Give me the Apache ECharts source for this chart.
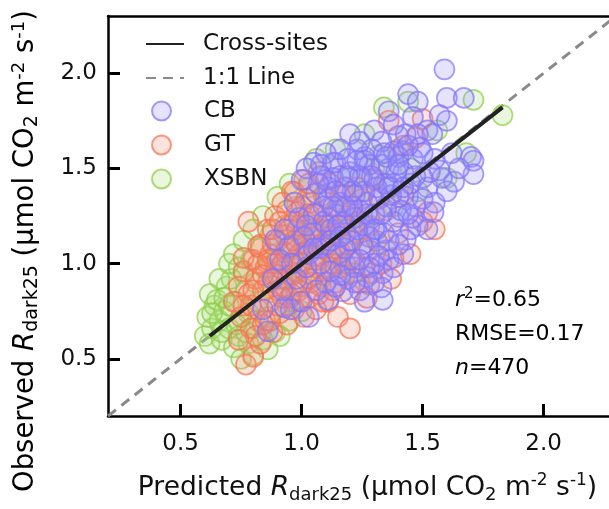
<!DOCTYPE html>
<html>
<head>
<meta charset="utf-8">
<script src="https://cdn.jsdelivr.net/npm/echarts@6/dist/echarts.min.js"></script>
<style>
  html, body { margin: 0; padding: 0; background: #fff; }
  #chart { width: 609px; height: 509px; }
</style>
</head>
<body>
<div id="chart"></div>
<script>
// [predicted, observed]
const cbData = [
  [1.59,2.02],[1.44,1.89],[1.48,1.85],[1.60,1.87],[1.67,1.87],[1.57,1.78],[1.60,1.75],[1.46,1.77],[1.52,1.70],[1.40,1.67],
  [1.48,1.68],[1.54,1.68],[1.42,1.59],[1.49,1.61],[1.23,1.60],[1.26,1.56],[1.05,1.53],[1.13,1.53],[1.38,1.59],[1.70,1.56],
  [1.36,1.80],[1.38,1.73],[1.30,1.70],[1.33,1.64],[1.20,1.68],
  [1.71,1.54],[1.71,1.47],[1.63,1.43],[1.58,1.45],[1.55,1.32],[1.545,1.27],[1.43,1.125],[1.35,1.07],[1.36,1.02],[1.57,1.49],
  [1.50,1.45],[1.40,1.56],[1.26,1.54],[1.44,1.35],[1.40,1.245],[1.31,1.18],[1.28,1.07],[1.335,0.95],[1.33,0.875],[1.335,0.81],
  [1.52,1.40],[1.47,1.30],[1.60,1.38],[1.48,1.20],[1.42,1.05],[1.38,0.98],[1.45,1.18],[1.65,1.50],[1.55,1.55],[1.62,1.58],
  [0.86,0.645],[0.84,0.76],[0.93,0.77],[0.955,0.76],[1.00,0.80],[1.11,0.81],[1.17,0.855],[1.19,0.92],[1.10,0.90],[0.98,0.92],
  [1.02,0.98],[1.06,0.86],[1.14,0.88],[1.24,0.86],[1.27,0.93],[1.22,0.98],[0.92,0.86],[0.88,0.92],[1.03,0.72],[1.26,0.80],
  [1.02,1.50],[1.14,1.53],[1.06,1.37],[1.09,1.22],[1.05,1.16],[0.93,1.18],[0.95,1.09],[0.89,1.125],[0.99,1.24],[0.97,1.32],
  [1.00,1.44],[1.08,1.46],[1.11,1.40],[0.91,1.02],[0.96,1.00],[1.03,1.05],
  [1.10,1.10],[1.12,1.18],[1.14,1.26],[1.16,1.32],[1.18,1.40],[1.20,1.48],[1.22,1.36],[1.24,1.28],[1.26,1.20],[1.28,1.14],
  [1.30,1.26],[1.32,1.34],[1.34,1.42],[1.36,1.50],[1.30,1.44],[1.28,1.52],[1.25,1.45],[1.22,1.24],[1.18,1.16],[1.15,1.05],
  [1.20,1.02],[1.25,1.10],[1.30,1.00],[1.34,1.16],[1.38,1.22],[1.40,1.35],[1.38,1.42],[1.42,1.48],[1.45,1.42],[1.35,1.30],
  [1.17,1.22],[1.13,1.45],[1.09,1.30],[1.07,1.08],[1.12,0.96],[1.18,1.08],[1.23,1.18],[1.27,1.32],[1.31,1.40],[1.33,1.52],
  [1.29,1.60],[1.19,1.55],[1.16,1.46],[1.11,1.34],[1.05,1.26],[1.01,1.14],[1.21,1.30],[1.26,1.38],[1.37,1.36],[1.41,1.28],
  [1.46,1.24],[1.50,1.34],[1.53,1.48],[1.46,1.55],[1.43,1.68],[1.34,1.58],[1.24,1.64],[1.16,1.60],[1.10,1.58],[1.08,1.52],
  [1.12,1.12],[1.15,1.20],[1.18,1.30],[1.21,1.38],[1.24,1.46],[1.27,1.26],[1.30,1.18],[1.33,1.26],[1.36,1.40],[1.39,1.48],
  [1.42,1.40],[1.44,1.26],[1.40,1.10],[1.36,1.12],[1.32,1.04],[1.28,0.98],[1.24,1.02],[1.20,1.12],[1.16,1.14],[1.13,1.30],
  [1.10,1.44],[1.14,1.38],[1.19,1.46],[1.23,1.54],[1.29,1.46],[1.35,1.56],[1.40,1.52],[1.47,1.46],[1.50,1.58],[1.44,1.62],
  [1.52,1.18],[1.30,0.90],[1.22,0.90],[1.16,0.94],[1.08,1.00],[1.05,1.08],[1.02,1.20],[1.07,1.42]
];
const gtData = [
  [0.72,0.80],[0.74,0.88],[0.75,0.72],[0.76,0.96],[0.77,0.47],[0.78,0.84],[0.79,0.66],[0.80,0.51],[0.80,1.02],[0.81,0.92],
  [0.82,0.76],[0.83,0.58],[0.83,1.10],[0.84,0.86],[0.85,0.98],[0.85,0.70],[0.86,1.18],[0.87,0.80],[0.87,1.05],[0.88,0.92],
  [0.88,0.64],[0.89,1.25],[0.90,0.86],[0.90,1.12],[0.91,0.74],[0.91,0.98],[0.92,1.32],[0.92,0.82],[0.93,1.06],[0.94,0.92],
  [0.94,0.68],[0.95,1.20],[0.95,1.00],[0.96,0.84],[0.96,1.38],[0.97,1.12],[0.97,0.76],[0.98,0.95],[0.98,1.27],[0.99,1.05],
  [1.00,0.88],[1.00,1.16],[1.01,0.72],[1.01,1.44],[1.02,0.98],[1.02,1.22],[1.03,0.82],[1.03,1.08],[1.04,1.32],[1.05,0.94],
  [1.05,1.14],[1.06,0.76],[1.06,1.26],[1.07,1.02],[1.07,1.48],[1.08,0.88],[1.08,1.18],[1.09,1.36],[1.10,0.96],[1.10,1.08],
  [1.11,0.80],[1.11,1.24],[1.12,1.42],[1.13,1.00],[1.13,1.15],[1.14,0.90],[1.15,1.30],[1.15,0.72],[1.16,1.06],[1.17,1.20],
  [1.18,0.94],[1.18,1.40],[1.19,1.10],[1.20,0.84],[1.21,1.28],[1.22,1.02],[1.23,1.16],[1.24,0.90],[1.25,1.34],[1.26,1.08],
  [1.27,0.82],[1.28,1.20],[1.29,0.95],[1.30,1.45],[1.31,1.12],[1.33,1.00],[1.35,1.28],[1.37,0.92],[1.38,1.03],[1.40,1.16],
  [1.42,1.36],[1.45,1.05],[1.50,1.22],[1.52,1.27],[1.55,1.18],[1.36,1.75],[1.50,1.76],[1.47,1.66],[1.42,1.62],[1.28,0.89],
  [1.20,0.66],[0.93,1.15],[0.97,1.02],[1.01,1.10],[1.04,0.90],[1.06,1.04],[1.09,1.22],[1.12,0.98],[1.14,1.08],[0.99,0.80],
  [0.89,1.00],[0.86,0.90],[0.82,1.00],[0.79,0.78],[0.84,0.68],[1.16,1.36],[1.19,1.25],[1.23,1.40],[1.32,1.35],[1.02,1.34],
  [0.98,1.18],[0.97,1.375],[1.03,1.42],[0.82,1.09],[0.78,1.22],[0.76,1.03],
  [0.86,1.02],[0.88,1.10],[0.90,0.94],[0.92,1.00],[0.94,1.08],[0.96,0.94],[0.98,1.10],[1.00,1.00],[1.02,1.06],[1.04,1.18],
  [1.06,0.98],[1.08,1.10],[1.10,1.20],[1.12,1.06],[1.14,1.18],[1.16,0.98],[0.90,0.78],[0.93,0.88],[0.95,0.82],[0.99,0.86],
  [1.03,0.92],[1.07,0.84],[0.87,0.70],[0.84,0.94],[0.88,1.18],[0.91,1.22],[0.94,1.28],[0.97,1.22],[1.00,1.30],[1.03,1.26],
  [0.80,0.86],[0.81,0.62],[0.76,0.78],[0.74,0.60],[1.18,1.00],[1.21,1.12],[1.24,1.22],[1.09,0.80],[1.13,0.86],[1.26,0.98]
];
const xsbnData = [
  [0.60,0.62],[0.62,0.58],[0.63,0.66],[0.61,0.72],[0.64,0.78],[0.62,0.84],[0.65,0.81],[0.66,0.70],[0.67,0.60],[0.68,0.75],
  [0.69,0.88],[0.70,0.66],[0.71,0.92],[0.72,0.56],[0.73,0.80],[0.74,0.62],[0.74,0.70],[0.75,0.50],[0.76,0.95],[0.77,0.86],
  [0.78,0.58],[0.78,0.74],[0.79,1.02],[0.80,0.66],[0.81,0.90],[0.82,0.80],[0.83,1.08],[0.84,0.60],[0.85,0.97],[0.86,0.72],
  [0.87,1.15],[0.88,0.85],[0.89,0.64],[0.90,1.02],[0.91,0.62],[0.92,0.92],[0.93,1.20],[0.94,0.78],[0.95,0.70],[0.96,1.10],
  [0.97,0.88],[0.98,1.30],[0.99,0.98],[1.00,0.75],[0.66,0.92],[0.70,1.00],[0.72,1.05],[0.76,1.12],[0.80,1.18],[0.84,1.25],
  [0.74,0.98],[0.68,0.82],[0.63,0.74],[0.67,0.64],[0.70,0.78],[0.73,0.68],[0.82,0.70],[0.86,0.55],[0.80,0.52],[0.77,0.64],
  [1.02,1.05],[1.05,1.20],[1.08,0.92],[1.10,1.35],[1.12,1.12],[1.15,1.00],[1.18,1.28],[1.20,1.45],[1.22,1.15],[1.25,1.38],
  [1.03,1.40],[1.06,1.55],[1.14,1.60],[0.95,1.42],[0.90,1.35],[1.28,1.25],[1.30,1.50],[1.35,1.42],[1.38,1.30],[1.40,1.60],
  [1.45,1.50],[1.48,1.38],[1.22,0.95],[1.32,1.10],
  [1.34,1.82],[1.44,1.85],[1.71,1.86],[1.83,1.78],[1.68,1.58],[1.32,1.57],[1.26,1.68],[1.56,1.70],[1.60,1.45]
];
const crossSites = [[0.62, 0.62], [1.83, 1.82]];
const oneToOne = [[0.2, 0.2], [2.3, 2.3]];
const xTicks = [0.5, 1.0, 1.5, 2.0];
const yTicks = [0.5, 1.0, 1.5, 2.0];

const FONT = 'DejaVu Sans, sans-serif';
const makeTitleRich = (size) => ({
  t: { fontSize: size, fontFamily: FONT, color: '#111', lineHeight: 32, verticalAlign: 'middle' },
  i: { fontSize: size, fontFamily: FONT, color: '#111', fontStyle: 'italic', lineHeight: 32, verticalAlign: 'middle' },
  sub: { fontSize: Math.round(size * 0.68), fontFamily: FONT, color: '#111', lineHeight: 17, verticalAlign: 'bottom' },
  sup: { fontSize: Math.round(size * 0.64), fontFamily: FONT, color: '#111', lineHeight: 16, verticalAlign: 'top' }
});
const statRich = {
  t: { fontSize: 22, fontFamily: FONT, color: '#3a3a3a', lineHeight: 34, verticalAlign: 'middle' },
  i: { fontSize: 22, fontFamily: FONT, color: '#3a3a3a', fontStyle: 'italic', lineHeight: 34, verticalAlign: 'middle' },
  sup: { fontSize: 15, fontFamily: FONT, color: '#3a3a3a', lineHeight: 15, padding: [4, 0, 0, 0], verticalAlign: 'top' }
};

const scatterSeries = (name, data, fill, stroke) => ({
  name, type: 'scatter', data, symbol: 'circle', symbolSize: 20,
  itemStyle: { color: fill, borderColor: stroke, borderWidth: 1.7 },
  emphasis: { disabled: true }
});

const axisLineStyle = { color: '#000', width: 2.5 };
const tickStyle = { color: '#000', width: 3 };

const chart = echarts.init(document.getElementById('chart'));
chart.setOption({
  animation: false,
  backgroundColor: '#fff',
  grid: { left: 108, right: 0, top: 16, bottom: 93 },
  legend: [
    {
      orient: 'vertical', left: 140, top: 27, itemGap: 10,
      itemWidth: 38, itemHeight: 14,
      data: ['Cross-sites', '1:1 Line'],
      itemStyle: { color: 'rgba(0,0,0,0)', borderWidth: 0, opacity: 0 },
      textStyle: { fontSize: 23, fontFamily: FONT, color: '#111', lineHeight: 24, padding: [0, 0, 0, 14] }
    },
    {
      orient: 'vertical', left: 146, top: 94, itemGap: 10,
      itemWidth: 19, itemHeight: 19,
      data: ['CB', 'GT', 'XSBN'],
      textStyle: { fontSize: 23, fontFamily: FONT, color: '#111', lineHeight: 24, padding: [0, 0, 0, 28] }
    }
  ],
  xAxis: [
    {
      type: 'value', min: 0.2, max: 2.27,
      name: '{t|Predicted }{i|R}{sub|dark25}{t| (μmol CO}{sub|2}{t| m}{sup|-2}{t| s}{sup|-1}{t|)}',
      nameLocation: 'middle', nameGap: 56,
      nameTextStyle: { rich: makeTitleRich(26.5), padding: [0, 0, 0, 18] },
      axisLine: { onZero: false, lineStyle: axisLineStyle },
      axisTick: { show: true, inside: true, length: 12, lineStyle: tickStyle, customValues: xTicks },
      axisLabel: {
        customValues: xTicks, margin: 17, fontSize: 23, fontFamily: FONT, color: '#111',
        formatter: (v) => v.toFixed(1)
      },
      splitLine: { show: false }
    },
    {
      type: 'value', min: 0.2, max: 2.27, position: 'top',
      axisLine: { onZero: false, lineStyle: axisLineStyle },
      axisTick: { show: false }, axisLabel: { show: false }, splitLine: { show: false }
    }
  ],
  yAxis: {
    type: 'value', min: 0.2, max: 2.3,
    axisLine: { onZero: false, lineStyle: axisLineStyle },
    axisTick: { show: true, inside: true, length: 12, lineStyle: tickStyle, customValues: yTicks },
    axisLabel: {
      customValues: yTicks, margin: 11, fontSize: 23, fontFamily: FONT, color: '#111',
      formatter: (v) => v.toFixed(1)
    },
    splitLine: { show: false }
  },
  graphic: [
    {
      type: 'text', x: 26, y: 251, rotation: Math.PI / 2, z: 100,
      style: {
        text: '{t|Observed }{i|R}{sub|dark25}{t| (μmol CO}{sub|2}{t| m}{sup|-2}{t| s}{sup|-1}{t|)}',
        rich: makeTitleRich(27.5), align: 'center', verticalAlign: 'middle'
      }
    },
    {
      type: 'text', x: 455, y: 283, z: 100,
      style: {
        text: '{i|r}{sup|2}{t|=0.65}\n{t|RMSE=0.17}\n{i|n}{t|=470}',
        rich: statRich, align: 'left', verticalAlign: 'top'
      }
    }
  ],
  series: [
    {
      name: '1:1 Line', type: 'line', data: oneToOne, symbol: 'none', z: 1,
      lineStyle: { color: '#8a8a8a', width: 3, type: [10, 7] },
      itemStyle: { color: '#8a8a8a' }
    },
    scatterSeries('XSBN', xsbnData, 'rgba(170, 222, 120, 0.3)', 'rgba(140, 205, 70, 0.9)'),
    scatterSeries('GT', gtData, 'rgba(250, 140, 110, 0.3)', 'rgba(246, 112, 80, 0.9)'),
    scatterSeries('CB', cbData, 'rgba(150, 138, 255, 0.3)', 'rgba(130, 115, 250, 0.9)'),
    {
      name: 'Cross-sites', type: 'line', data: crossSites, symbol: 'none', z: 5,
      lineStyle: { color: '#222', width: 4 },
      itemStyle: { color: '#222' }
    }
  ]
});
</script>
</body>
</html>
